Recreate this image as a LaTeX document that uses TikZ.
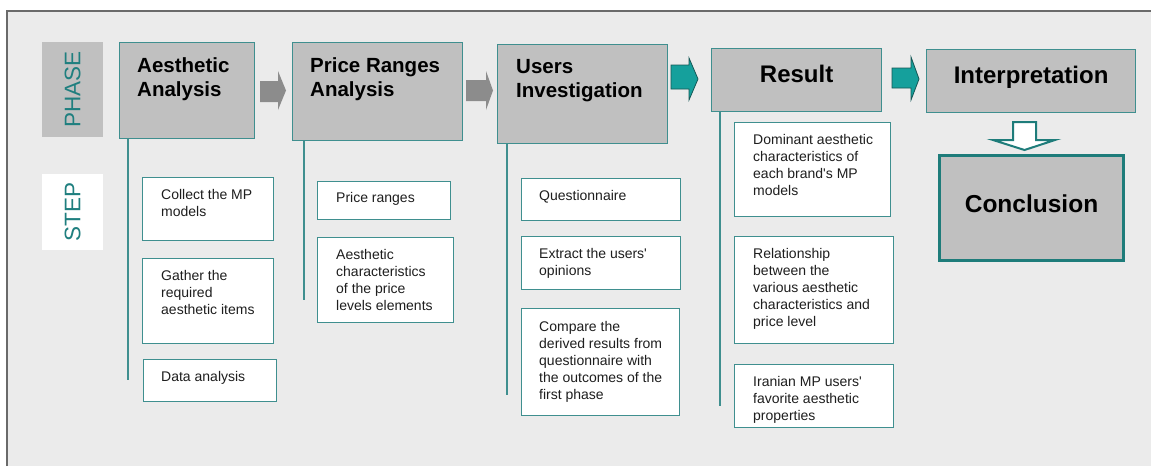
\documentclass[tikz,border=0pt]{standalone}
\usepackage{fontspec}
\setmainfont{Liberation Sans}
\usetikzlibrary{calc}
\definecolor{bgc}{HTML}{EBEBEB}
\definecolor{framec}{HTML}{6A6A6A}
\definecolor{boxgray}{HTML}{C0C0C0}
\definecolor{tealb}{HTML}{3F8F8F}
\definecolor{tealdark}{HTML}{1E7C7A}
\definecolor{tealfill}{HTML}{15A09C}
\definecolor{tealtext}{HTML}{1F7F7F}
\definecolor{arrgray}{HTML}{8C8C8C}
\definecolor{txt}{HTML}{1E1E1E}
\tikzset{
  phasebox/.style={draw=tealb, line width=1.2pt, fill=boxgray, anchor=north west, inner sep=0pt},
  stepbox/.style={draw=tealb, line width=1.2pt, fill=white, anchor=north west, inner sep=0pt},
  headtext/.style={anchor=north west, inner sep=0pt, align=left, font=\bfseries\fontsize{20.5}{24.5}\selectfont, text=black},
  steptext/.style={anchor=north west, inner sep=0pt, align=left, font=\fontsize{14}{17}\selectfont, text=txt},
  sidelabel/.style={anchor=north west, inner sep=0pt},
  sidetext/.style={rotate=90, inner sep=0pt, font=\fontsize{22.5}{26}\selectfont, text=tealtext},
  colline/.style={draw=tealb, line width=1.3pt},
  grayarrow/.style={fill=arrgray},
  tealarrow/.style={fill=tealfill, draw=tealdark!70!black, line width=0.8pt},
  downarrow/.style={fill=white, draw=tealdark, line width=2pt, line join=miter}
}
\newcommand{\apos}{\textquotesingle}
\begin{document}
\begin{tikzpicture}[x=1pt,y=-1pt]
\useasboundingbox (0,0) rectangle (1151,466);
\fill[white] (0,0) rectangle (1151,466);
\fill[bgc] (7,11) rectangle (1151,466);
\draw[framec, line width=1.5pt] (7,466) -- (7,11) -- (1151,11);

% side labels
\node[sidelabel, fill=boxgray, minimum width=61pt, minimum height=95pt] (phase) at (42,42) {};
\node[sidetext] at (phase.center) {PHASE};
\node[sidelabel, fill=white, minimum width=61pt, minimum height=76pt] (step) at (42,174) {};
\node[sidetext] at (step.center) {STEP};

% phase boxes
\node[phasebox, minimum width=135pt, minimum height=96pt] (h1) at (119,42) {};
\node[headtext] at ($(h1.north west)+(18,15)$) {Aesthetic\\Analysis};
\node[phasebox, minimum width=170pt, minimum height=98pt] (h2) at (292,42) {};
\node[headtext] at ($(h2.north west)+(18,15)$) {Price Ranges\\Analysis};
\node[phasebox, minimum width=170pt, minimum height=99pt] (h3) at (497,44) {};
\node[headtext] at ($(h3.north west)+(19,15)$) {Users\\Investigation};
\node[phasebox, minimum width=170pt, minimum height=63pt] (h4) at (711,48) {};
\node[anchor=base, inner sep=0pt, font=\bfseries\fontsize{24}{28}\selectfont] at ($(h4.north)+(0,34)$) {Result};
\node[phasebox, minimum width=209pt, minimum height=63pt] (h5) at (926,49) {};
\node[anchor=base, inner sep=0pt, font=\bfseries\fontsize{24}{28}\selectfont] at ($(h5.north)+(0,34)$) {Interpretation};
\node[phasebox, draw=tealdark, line width=3pt, minimum width=184pt, minimum height=105pt] (concl) at (938,154) {};
\node[anchor=base, inner sep=0pt, font=\bfseries\fontsize{24.5}{28}\selectfont] at ($(concl.north)+(0,58)$) {Conclusion};

% column lines
\coordinate (e1) at (128,380);
\coordinate (e2) at (304,300);
\coordinate (e3) at (507,395);
\coordinate (e4) at (720,406);
\draw[colline] (h1.south west -| e1) -- (e1);
\draw[colline] (h2.south west -| e2) -- (e2);
\draw[colline] (h3.south west -| e3) -- (e3);
\draw[colline] (h4.south west -| e4) -- (e4);

% step boxes, column 1
\node[stepbox, minimum width=131pt, minimum height=63pt] (a1) at (142,177) {};
\node[steptext] at ($(a1.north west)+(19,12)$) {Collect the MP\\models};
\node[stepbox, minimum width=131pt, minimum height=85pt] (a2) at (142,258) {};
\node[steptext] at ($(a2.north west)+(19,12)$) {Gather the\\required\\aesthetic items};
\node[stepbox, minimum width=133pt, minimum height=42pt] (a3) at (143,359) {};
\node[steptext] at ($(a3.north west)+(18,12.5)$) {Data analysis};

% column 2
\node[stepbox, minimum width=133pt, minimum height=38pt] (b1) at (317,181) {};
\node[steptext] at ($(b1.north west)+(19,11)$) {Price ranges};
\node[stepbox, minimum width=136pt, minimum height=85pt] (b2) at (317,237) {};
\node[steptext] at ($(b2.north west)+(19,12.5)$) {Aesthetic\\characteristics\\of the price\\levels elements};

% column 3
\node[stepbox, minimum width=159pt, minimum height=42pt] (c1) at (521,178) {};
\node[steptext] at ($(c1.north west)+(18,12.5)$) {Questionnaire};
\node[stepbox, minimum width=159pt, minimum height=53pt] (c2) at (521,236) {};
\node[steptext] at ($(c2.north west)+(18,12.5)$) {Extract the users\apos\\opinions};
\node[stepbox, minimum width=158pt, minimum height=107pt] (c3) at (521,308) {};
\node[steptext] at ($(c3.north west)+(18,13)$) {Compare the\\derived results from\\questionnaire with\\the outcomes of the\\first phase};

% column 4
\node[stepbox, minimum width=156pt, minimum height=94pt] (d1) at (734,122) {};
\node[steptext] at ($(d1.north west)+(19,12.5)$) {Dominant aesthetic\\characteristics of\\each brand\apos s MP\\models};
\node[stepbox, minimum width=159pt, minimum height=107pt] (d2) at (734,236) {};
\node[steptext] at ($(d2.north west)+(19,12.5)$) {Relationship\\between the\\various aesthetic\\characteristics and\\price level};
\node[stepbox, minimum width=159pt, minimum height=63pt] (d3) at (734,364) {};
\node[steptext] at ($(d3.north west)+(19,12.5)$) {Iranian MP users\apos\\favorite aesthetic\\properties};

% block arrows between phases
\fill[grayarrow] (260,81) -- (278,81) -- (278,71) -- (286,90.5) -- (278,110) -- (278,102) -- (260,102) -- cycle;
\fill[grayarrow] (466,80) -- (486,80) -- (486,71) -- (493,90.5) -- (486,110) -- (486,101) -- (466,101) -- cycle;
\draw[tealarrow] (671,65) -- (689,65) -- (689,58) -- (698,79) -- (689,100) -- (689,89) -- (671,89) -- cycle;
\draw[tealarrow] (892,68) -- (911,68) -- (911,57) -- (919,79) -- (911,100) -- (911,88) -- (892,88) -- cycle;
\draw[downarrow] (1013,122) -- (1036,122) -- (1036,140) -- (1055,140) -- (1024.5,150) -- (993,140) -- (1013,140) -- cycle;
\end{tikzpicture}
\end{document}
